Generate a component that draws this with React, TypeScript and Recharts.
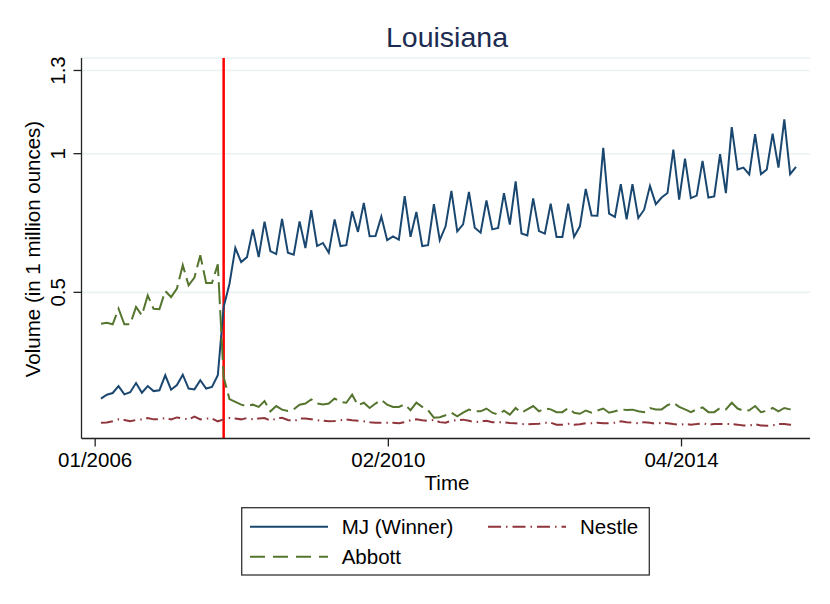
import {
  CartesianGrid,
  Line,
  LineChart,
  ReferenceLine,
  XAxis,
  YAxis,
} from "recharts";

// monthly volumes, in 1 million ounces (period 1 .. 120)
const mjWinner = [
  0.117, 0.131, 0.137, 0.162, 0.132, 0.14, 0.173, 0.138, 0.162, 0.144,
  0.147, 0.201, 0.149, 0.166, 0.203, 0.153, 0.15, 0.183, 0.153, 0.159,
  0.201, 0.447, 0.531, 0.66, 0.609, 0.627, 0.727, 0.627, 0.755, 0.649,
  0.638, 0.765, 0.643, 0.636, 0.756, 0.66, 0.796, 0.667, 0.678, 0.643,
  0.763, 0.667, 0.67, 0.792, 0.718, 0.822, 0.702, 0.703, 0.773, 0.688,
  0.702, 0.69, 0.847, 0.7, 0.79, 0.667, 0.67, 0.818, 0.688, 0.738,
  0.866, 0.72, 0.745, 0.862, 0.733, 0.715, 0.831, 0.727, 0.732, 0.858,
  0.744, 0.9, 0.712, 0.705, 0.839, 0.721, 0.712, 0.82, 0.7, 0.7,
  0.82, 0.7, 0.738, 0.873, 0.777, 0.776, 1.021, 0.784, 0.772, 0.89,
  0.763, 0.89, 0.768, 0.798, 0.884, 0.818, 0.842, 0.858, 1.015, 0.834,
  0.982, 0.84, 0.849, 0.974, 0.842, 0.846, 0.998, 0.858, 1.096, 0.943,
  0.95, 0.925, 1.07, 0.926, 0.943, 1.072, 0.95, 1.124, 0.926, 0.952,
];

const nestle = [
  0.03, 0.031, 0.035, 0.042, 0.04, 0.035, 0.04, 0.042, 0.047, 0.042,
  0.042, 0.047, 0.042, 0.049, 0.045, 0.042, 0.052, 0.042, 0.045, 0.045,
  0.035, 0.042, 0.047, 0.045, 0.042, 0.047, 0.042, 0.045, 0.047, 0.037,
  0.045, 0.048, 0.04, 0.035, 0.045, 0.045, 0.042, 0.039, 0.037, 0.035,
  0.036, 0.039, 0.042, 0.039, 0.037, 0.035, 0.032, 0.03, 0.03, 0.03,
  0.03, 0.028, 0.032, 0.039, 0.042, 0.039, 0.037, 0.04, 0.032, 0.03,
  0.037, 0.039, 0.041, 0.037, 0.032, 0.034, 0.037, 0.032, 0.032, 0.031,
  0.029, 0.028, 0.025, 0.024, 0.025, 0.026, 0.03, 0.03, 0.023, 0.023,
  0.026, 0.023, 0.024, 0.028, 0.028, 0.03, 0.028, 0.028, 0.03, 0.035,
  0.032, 0.03, 0.028, 0.032, 0.03, 0.026, 0.03, 0.028, 0.025, 0.023,
  0.025, 0.023, 0.025, 0.028, 0.023, 0.025, 0.025, 0.025, 0.025, 0.023,
  0.02, 0.02, 0.024, 0.02, 0.019, 0.02, 0.025, 0.025, 0.023, 0.02,
];

const abbott = [
  0.387, 0.39, 0.385, 0.441, 0.385, 0.385, 0.447, 0.417, 0.489, 0.441,
  0.439, 0.505, 0.483, 0.514, 0.598, 0.525, 0.553, 0.634, 0.534, 0.534,
  0.601, 0.195, 0.115, 0.105, 0.095, 0.09, 0.095, 0.087, 0.108, 0.071,
  0.09, 0.077, 0.072, 0.078, 0.095, 0.099, 0.114, 0.099, 0.096, 0.099,
  0.117, 0.105, 0.102, 0.131, 0.093, 0.102, 0.083, 0.099, 0.112, 0.095,
  0.087, 0.087, 0.096, 0.075, 0.102, 0.087, 0.075, 0.048, 0.05, 0.057,
  0.066, 0.053, 0.066, 0.077, 0.071, 0.071, 0.081, 0.066, 0.059, 0.073,
  0.059, 0.083, 0.066, 0.078, 0.09, 0.071, 0.081, 0.078, 0.068, 0.068,
  0.083, 0.066, 0.062, 0.074, 0.066, 0.074, 0.081, 0.066, 0.071, 0.078,
  0.076, 0.077, 0.071, 0.068, 0.083, 0.078, 0.078, 0.093, 0.102, 0.087,
  0.078, 0.068, 0.078, 0.085, 0.068, 0.068, 0.083, 0.078, 0.102, 0.081,
  0.073, 0.075, 0.09, 0.068, 0.073, 0.083, 0.071, 0.083, 0.078, 0.074,
];

const seriesNames = ["MJ (Winner)", "Nestle", "Abbott"];
const xTickValues = [0, 50.2, 100.4];
const xTickLabels = ["01/2006", "02/2010", "04/2014"];
const yTickValues = [0.5, 1, 1.3];
const contractSwitch = 22;

const data = mjWinner.map((v, i) => ({
  t: i + 1,
  mj: v,
  nestle: nestle[i],
  abbott: abbott[i],
}));

const FONT = "'Liberation Sans', Arial, Helvetica, sans-serif";
const NAVY = "#1a476f";
const MAROON = "#90353b";
const GREEN = "#55752f";

const XTick = ({ x, y, payload }: any) => {
  const idx = xTickValues.indexOf(payload.value);
  return (
    <text x={x} y={y + 18} textAnchor="middle" fontSize={20.5} fontFamily={FONT} fill="#000">
      {xTickLabels[idx]}
    </text>
  );
};

const YTick = ({ x, y, payload }: any) => {
  const bx = x - 6.5;
  return (
    <text
      x={bx}
      y={y}
      transform={`rotate(-90 ${bx} ${y})`}
      textAnchor="middle"
      fontSize={20.5}
      fontFamily={FONT}
      fill="#000"
    >
      {String(payload.value)}
    </text>
  );
};

const legendItems = [
  { name: seriesNames[0], color: NAVY, dash: undefined, lx: 250, tx: 341.7, y: 526.7 },
  { name: seriesNames[1], color: MAROON, dash: "13 5 1.5 5", lx: 488, tx: 580, y: 526.7 },
  { name: seriesNames[2], color: GREEN, dash: "15 8", lx: 250, tx: 341.7, y: 556.7 },
];

const Overlay = () => (
  <svg
    width={830}
    height={604}
    style={{ position: "absolute", left: 0, top: 0, pointerEvents: "none" }}
    fontFamily={FONT}
  >
    <text x={447} y={46.5} textAnchor="middle" fontSize={28.5} fill="#1c2b50">
      Louisiana
    </text>
    <text x={447} y={490} textAnchor="middle" fontSize={20.5} fill="#000">
      Time
    </text>
    <text
      x={40}
      y={249}
      transform="rotate(-90 40 249)"
      textAnchor="middle"
      fontSize={20.5}
      fill="#000"
    >
      Volume (in 1 million ounces)
    </text>
    <rect x={241.7} y={507.7} width={407.6} height={67.3} fill="#fff" stroke="#333" strokeWidth={1.3} />
    {legendItems.map((it) => (
      <g key={it.name}>
        <line
          x1={it.lx}
          x2={it.lx + 78}
          y1={it.y}
          y2={it.y}
          stroke={it.color}
          strokeWidth={2}
          strokeDasharray={it.dash}
        />
        <text x={it.tx} y={it.y + 7.3} fontSize={20.5} fill="#000">
          {it.name}
        </text>
      </g>
    ))}
  </svg>
);

export default function App() {
  return (
    <div style={{ position: "absolute", left: 0, top: 0, width: 830, height: 604, background: "#fff" }}>
      <LineChart
        width={830}
        height={604}
        data={data}
        margin={{ top: 58, right: 20, bottom: 105.5, left: 0 }}
      >
        <CartesianGrid vertical={false} stroke="#eaf2f3" strokeWidth={1.6} />
        <XAxis
          type="number"
          dataKey="t"
          domain={[-2.34, 122.4]}
          allowDataOverflow
          ticks={xTickValues}
          interval={0}
          height={60}
          tickSize={8}
          stroke="#222"
          axisLine={{ stroke: "#222", strokeWidth: 1.3 }}
          tickLine={{ stroke: "#222", strokeWidth: 1.3 }}
          tick={<XTick />}
        />
        <YAxis
          type="number"
          domain={[-0.027, 1.345]}
          allowDataOverflow
          ticks={yTickValues}
          interval={0}
          width={81.5}
          tickSize={8}
          stroke="#222"
          axisLine={{ stroke: "#222", strokeWidth: 1.3 }}
          tickLine={{ stroke: "#222", strokeWidth: 1.3 }}
          tick={<YTick />}
        />
        <ReferenceLine x={contractSwitch} stroke="#ff0000" strokeWidth={2.5} />
        <Line
          type="linear"
          dataKey="mj"
          name={seriesNames[0]}
          stroke={NAVY}
          strokeWidth={2}
          dot={false}
          activeDot={false}
          isAnimationActive={false}
        />
        <Line
          type="linear"
          dataKey="nestle"
          name={seriesNames[1]}
          stroke={MAROON}
          strokeWidth={2}
          strokeDasharray="12 5 1.5 4.5"
          dot={false}
          activeDot={false}
          isAnimationActive={false}
        />
        <Line
          type="linear"
          dataKey="abbott"
          name={seriesNames[2]}
          stroke={GREEN}
          strokeWidth={2}
          strokeDasharray="22 6"
          dot={false}
          activeDot={false}
          isAnimationActive={false}
        />
      </LineChart>
      <Overlay />
    </div>
  );
}
